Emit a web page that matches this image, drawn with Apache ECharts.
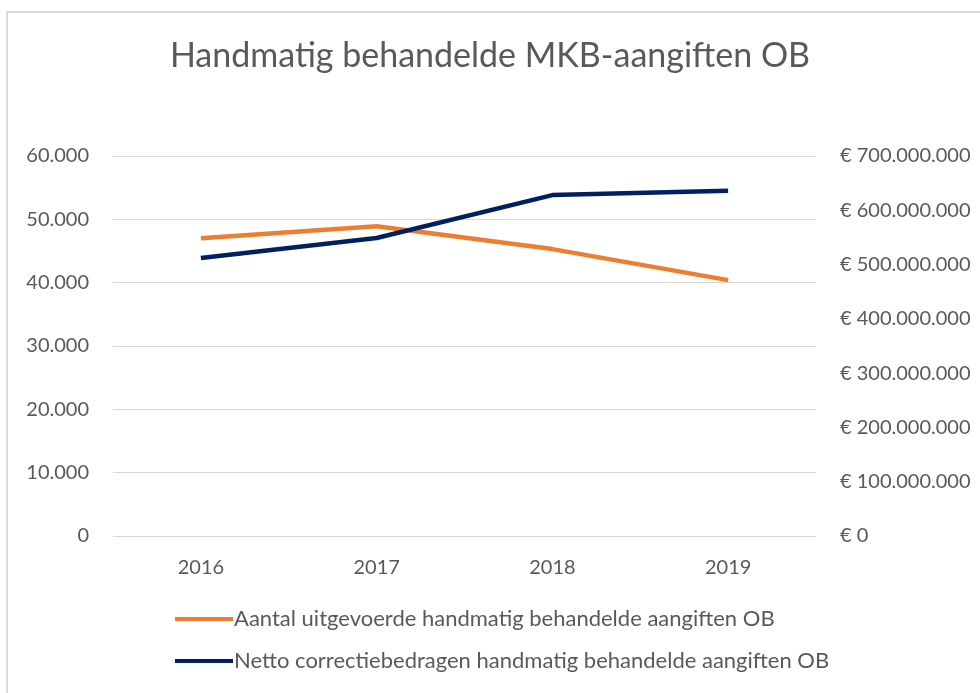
<!DOCTYPE html>
<html lang="nl">
<head>
    <meta charset="UTF-8">
    <title>Handmatig behandelde MKB-aangiften OB</title>
    <script src="https://cdn.jsdelivr.net/npm/echarts@6/dist/echarts.min.js"></script>
    <style>
        html, body { margin: 0; padding: 0; background: #fff; }
        #chart { width: 980px; height: 693px; }
    </style>
</head>
<body>
    <div id="chart"></div>
    <script>
        var years = ['2016', '2017', '2018', '2019']
        var aantal = [47000, 48900, 45300, 40400]
        var netto = [512000000, 549000000, 628000000, 636000000]
        var seriesNames = [
            'Aantal uitgevoerde handmatig behandelde aangiften OB',
            'Netto correctiebedragen handmatig behandelde aangiften OB'
        ]

        function dots(v) {
            return String(v).replace(/\B(?=(\d{3})+(?!\d))/g, '.')
        }

        var chart = echarts.init(document.getElementById('chart'))
        var font = 'Lato, "Open Sans", sans-serif'
        var grey = '#595959'

        chart.setOption({
            animation: false,
            textStyle: { fontFamily: font },
            title: {
                text: 'Handmatig behandelde MKB-aangiften OB',
                left: 'center',
                top: 34,
                textStyle: { fontSize: 34, fontWeight: 'normal', color: grey, fontFamily: font }
            },
            graphic: [{
                type: 'polyline',
                shape: { points: [[7, 693], [7, 12], [980, 12]] },
                style: { stroke: '#d9d9d9', lineWidth: 2, fill: null }
            }],
            legend: {
                orient: 'vertical',
                left: 170,
                top: 603,
                itemGap: 20,
                itemWidth: 58,
                itemHeight: 4,
                icon: 'rect',
                textStyle: { fontSize: 22, color: grey, fontFamily: font, padding: [0, 0, 0, -4] },
                data: seriesNames
            },
            grid: { left: 113, right: 164, top: 156, bottom: 157 },
            xAxis: {
                type: 'category',
                data: years,
                axisLine: { show: false },
                axisTick: { show: false },
                axisLabel: { color: grey, fontSize: 20, margin: 22 }
            },
            yAxis: [{
                type: 'value',
                min: 0,
                max: 60000,
                interval: 10000,
                axisLine: { show: false },
                axisTick: { show: false },
                axisLabel: { color: grey, fontSize: 20, margin: 24, formatter: dots },
                splitLine: { lineStyle: { color: '#d9d9d9', width: 1 } }
            }, {
                type: 'value',
                min: 0,
                max: 700000000,
                interval: 100000000,
                axisLine: { show: false },
                axisTick: { show: false },
                axisLabel: {
                    color: grey, fontSize: 20, margin: 24, align: 'left',
                    formatter: function (v) { return '€ ' + dots(v) }
                },
                splitLine: { show: false }
            }],
            series: [{
                name: seriesNames[0],
                type: 'line',
                data: aantal,
                yAxisIndex: 0,
                symbol: 'none',
                lineStyle: { color: '#ed7d31', width: 4.5 },
                itemStyle: { color: '#ed7d31' }
            }, {
                name: seriesNames[1],
                type: 'line',
                data: netto,
                yAxisIndex: 1,
                symbol: 'none',
                lineStyle: { color: '#002060', width: 4.5 },
                itemStyle: { color: '#002060' }
            }]
        })
    </script>
</body>
</html>
